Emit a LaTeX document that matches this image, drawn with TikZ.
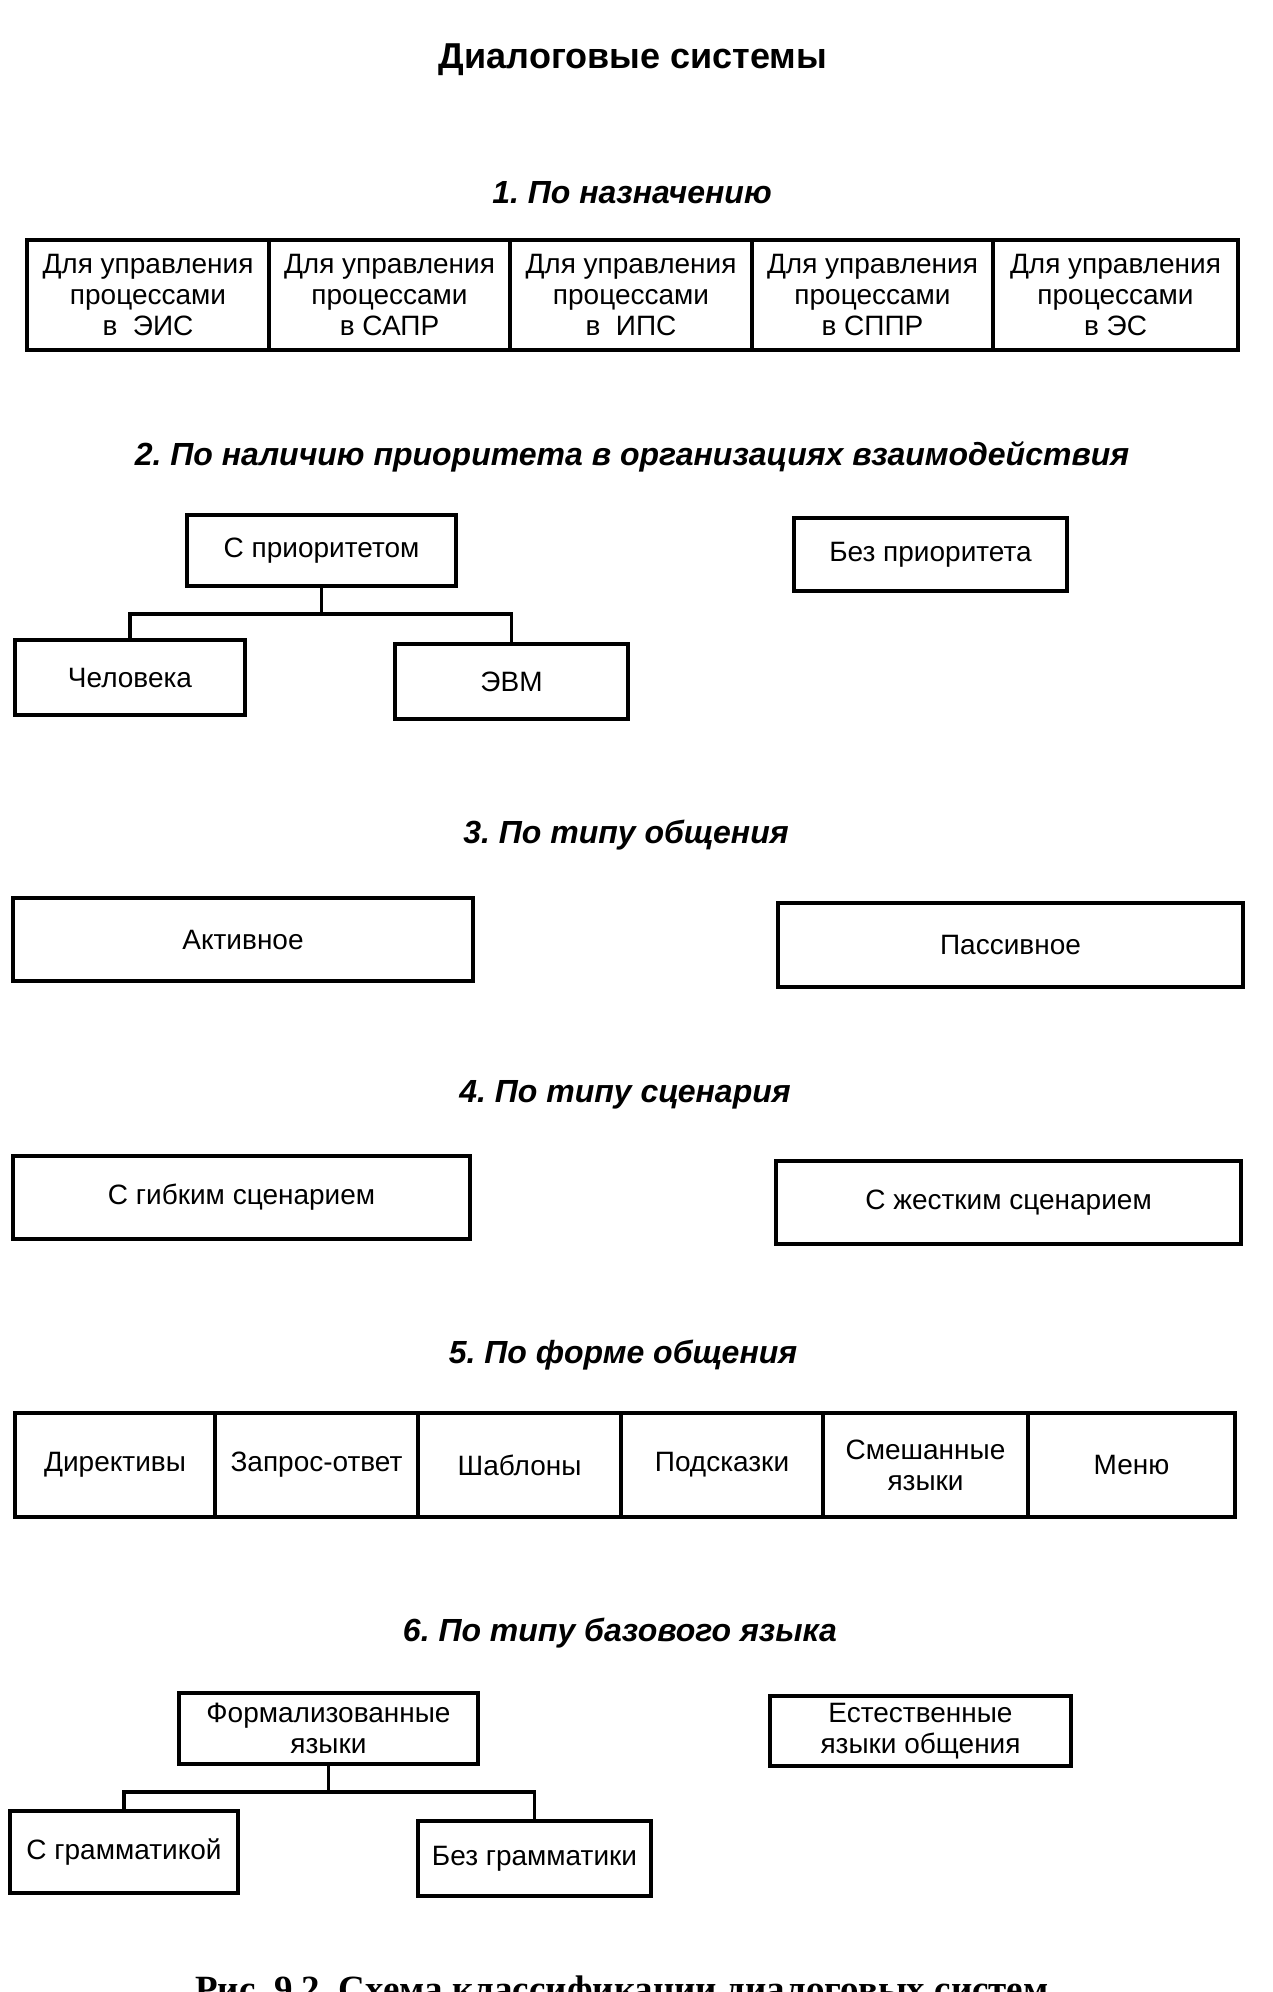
\documentclass[tikz,border=0pt]{standalone}
\usepackage{fontspec}
\setmainfont{Liberation Sans}
\newfontfamily\capfont{Liberation Serif}
\frenchspacing
\begin{document}
\begin{tikzpicture}[x=1pt,y=-1pt]
\tikzset{
  box/.style={draw, line width=3.2pt, inner sep=0pt, align=center, font=\fontsize{28}{31}\selectfont},
  head/.style={font=\fontsize{32}{36}\selectfont\bfseries\itshape, inner sep=0pt},
  conn/.style={line width=3.2pt}
}
\useasboundingbox (0,0) rectangle (1272,1992);
\fill[white] (0,0) rectangle (1272,1992);

\node[font=\fontsize{36}{40}\selectfont\bfseries, inner sep=0pt] (title) at (633,60) {Диалоговые системы};

% 1
\node[head] (h1) at (632,193) {1. По назначению};
\node[box, minimum width=242pt, minimum height=110pt] (a1) at (148,295) {Для управления\\процессами\\в\ \ ЭИС};
\node[box, minimum width=241pt, minimum height=110pt] (a2) at (389.5,295) {Для управления\\процессами\\в САПР};
\node[box, minimum width=242pt, minimum height=110pt] (a3) at (631,295) {Для управления\\процессами\\в\ \ ИПС};
\node[box, minimum width=241pt, minimum height=110pt] (a4) at (872.5,295) {Для управления\\процессами\\в СППР};
\node[box, minimum width=245pt, minimum height=110pt] (a5) at (1115.5,295) {Для управления\\процессами\\в ЭС};

% 2
\node[head] (h2) at (632,457) {2. По наличию приоритета в организациях взаимодействия};
\node[box, minimum width=269pt, minimum height=71pt] (sp) at (321.5,550.5) {С приоритетом};
\node[box, minimum width=273pt, minimum height=73pt] (bp) at (930.5,554.5) {Без приоритета};
\node[box, minimum width=230pt, minimum height=75pt] (chel) at (130,677.5) {Человека};
\node[box, minimum width=233pt, minimum height=75pt] (evm) at (511.5,681.5) {ЭВМ};
\coordinate (j1) at (321.5,614);
\draw[conn] (sp.south) -- (j1);
\draw[conn] (chel.north) -- (chel.north |- j1) -- (evm.north |- j1) -- (evm.north);

% 3
\node[head] (h3) at (626,835) {3. По типу общения};
\node[box, minimum width=460pt, minimum height=83pt] (akt) at (243,939.5) {Активное};
\node[box, minimum width=465pt, minimum height=84pt] (pas) at (1010.5,945) {Пассивное};

% 4
\node[head] (h4) at (625,1095) {4. По типу сценария};
\node[box, minimum width=457pt, minimum height=83pt] (gib) at (241.5,1197.5) {С гибким сценарием};
\node[box, minimum width=465pt, minimum height=83pt] (zhe) at (1008.5,1202.5) {С жестким сценарием};

% 5
\node[head] (h5) at (623,1355) {5. По форме общения};
\node[box, minimum width=200pt, minimum height=104pt] (b1) at (115,1465) {Директивы};
\node[box, minimum width=203pt, minimum height=104pt] (b2) at (316.5,1465) {Запрос-ответ};
\node[box, minimum width=203pt, minimum height=104pt] (b3) at (519.5,1465) {Шаблоны};
\node[box, minimum width=202pt, minimum height=104pt] (b4) at (722,1465) {Подсказки};
\node[box, minimum width=205pt, minimum height=104pt] (b5) at (925.5,1465) {Смешанные\\языки};
\node[box, minimum width=207pt, minimum height=104pt] (b6) at (1131.5,1465) {Меню};

% 6
\node[head] (h6) at (620,1633) {6. По типу базового языка};
\node[box, minimum width=299pt, minimum height=71pt] (form) at (328.5,1728.5) {Формализованные\\языки};
\node[box, minimum width=301pt, minimum height=70pt] (est) at (920.5,1731) {Естественные\\языки общения};
\node[box, minimum width=228pt, minimum height=82pt] (sgr) at (124,1852) {С грамматикой};
\node[box, minimum width=233pt, minimum height=75pt] (bgr) at (534.5,1858.5) {Без грамматики};
\coordinate (j2) at (328.5,1792);
\draw[conn] (form.south) -- (j2);
\draw[conn] (sgr.north) -- (sgr.north |- j2) -- (bgr.north |- j2) -- (bgr.north);

% caption (cut by page edge, as in the reference)
\node[font=\fontsize{37}{40}\selectfont\capfont\bfseries, inner sep=0pt, anchor=base] (cap) at (622,2001) {Рис. 9.2. Схема классификации диалоговых систем};
\end{tikzpicture}
\end{document}
